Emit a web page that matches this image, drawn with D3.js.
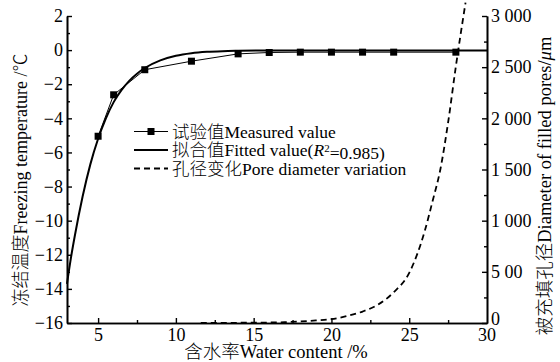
<!DOCTYPE html>
<html>
<head>
<meta charset="utf-8">
<script src="https://cdn.jsdelivr.net/npm/d3@7"></script>
<style>
  body { margin: 0; background: #fff; }
  text { font-family: "Liberation Serif", "Noto Sans CJK SC", serif; fill: #000; }
  .cjk { font-family: "Noto Sans CJK SC", sans-serif; font-weight: 300; }
</style>
</head>
<body>
<div id="chart"></div>
<script>
// measured freezing temperature
var measuredX = [5, 6, 8, 11, 14, 16, 18, 20, 22, 24, 28];
var measuredY = [-5.05, -2.62, -1.15, -0.65, -0.22, -0.14, -0.12, -0.12, -0.12, -0.12, -0.12];

// fitted curve
var fittedX = [3, 3.25, 3.5, 3.75, 4, 4.5, 5, 5.5, 6, 6.5, 7, 7.5, 8, 9, 10, 11, 12, 13, 14, 16, 20, 30];
var fittedY = [-13.7, -12.2, -10.9, -9.7, -8.6, -6.7, -5.2, -4.0, -3.05, -2.35, -1.8, -1.38, -1.05, -0.6, -0.33, -0.18, -0.1, -0.06, -0.04, -0.02, -0.02, -0.02];

// pore diameter (right axis, um)
var poreX = [11.6, 14, 16, 17, 18, 19, 20, 21, 22, 23, 24, 25, 26, 26.5, 27, 27.5, 28, 28.62];
var poreY = [0, 2, 5, 8, 15, 25, 38, 68, 112, 180, 300, 490, 900, 1190, 1500, 1960, 2510, 3130];

var xTicks = [5, 10, 15, 20, 25, 30];
var yLeftTicks = [2, 0, -2, -4, -6, -8, -10, -12, -14, -16];
var yRightTicks = [0, 500, 1000, 1500, 2000, 2500, 3000];
var yRightLabels = ["0", "5 00", "1 000", "1 500", "2 000", "2 500", "3 000"];

var legendCn = ["试验值", "拟合值", "孔径变化"];
var legendEn = ["Measured value", "Fitted value", "Pore diameter variation"];

var W = 560, H = 362;
var svg = d3.select("#chart").append("svg")
  .attr("width", W).attr("height", H);
svg.append("rect").attr("width", W).attr("height", H).attr("fill", "#fff");

var x = d3.scaleLinear().domain([3, 30]).range([67, 487]);
var yL = d3.scaleLinear().domain([-16, 2]).range([323, 16]);
var yR = d3.scaleLinear().domain([0, 3000]).range([323, 16]);

var fs = 18;

function styleAxis(g) {
  g.selectAll("path.domain").attr("stroke-width", 1.6);
  g.selectAll(".tick line").attr("stroke-width", 1.4);
  g.selectAll("text").style("font-size", fs + "px");
}

// bottom axis
var gx = svg.append("g").attr("transform", "translate(0," + yL(-16) + ")");
gx.call(d3.axisBottom(x).tickValues(xTicks.filter(function(d) { return d < 30; })).tickSizeInner(-5).tickSizeOuter(0).tickPadding(5));
gx.append("g").call(d3.axisBottom(x).tickValues([7.5, 12.5, 17.5, 22.5, 27.5]).tickSizeInner(-3).tickSizeOuter(0).tickFormat(""));
styleAxis(gx);
// "30" label under the right axis
svg.append("text").attr("x", x(30)).attr("y", yL(-16) + 5).attr("dy", "0.71em").attr("text-anchor", "middle")
  .style("font-size", fs + "px").text(xTicks[5]);

// left axis
var gl = svg.append("g").attr("transform", "translate(" + x(3) + ",0)");
gl.call(d3.axisLeft(yL).tickValues(yLeftTicks).tickSizeInner(-5).tickSizeOuter(0).tickPadding(4));
gl.append("g").call(d3.axisLeft(yL).tickValues(d3.range(-15, 2, 2)).tickSizeInner(-3).tickSizeOuter(0).tickFormat(""));
styleAxis(gl);

// right axis
var gr = svg.append("g").attr("transform", "translate(" + x(30) + ",0)");
gr.call(d3.axisRight(yR).tickValues(yRightTicks).tickSizeInner(-5).tickSizeOuter(0).tickPadding(4)
  .tickFormat(function(d, i) { return yRightLabels[i]; }));
gr.append("g").call(d3.axisRight(yR).tickValues(d3.range(250, 3000, 500)).tickSizeInner(-3).tickSizeOuter(0).tickFormat(""));
styleAxis(gr);
gr.selectAll(".tick text").filter(function(d) { return d === 0; }).attr("dy", "0.1em");

// axis titles
var xt = svg.append("text").attr("x", 276).attr("y", 358).attr("text-anchor", "middle").style("font-size", "18.5px");
xt.append("tspan").attr("class", "cjk").text("含水率");
xt.append("tspan").text("Water content /%");

var lt = svg.append("text").attr("transform", "translate(27,180) rotate(-90)").attr("text-anchor", "middle").style("font-size", "18px");
lt.append("tspan").attr("class", "cjk").text("冻结温度");
lt.append("tspan").text("Freezing temperature /");
lt.append("tspan").attr("class", "cjk").text("℃");

var rt = svg.append("text").attr("transform", "translate(551,186) rotate(-90)").attr("text-anchor", "middle").style("font-size", "18.5px");
rt.append("tspan").attr("class", "cjk").text("被充填孔径");
rt.append("tspan").text("Diameter of filled pores/");
rt.append("tspan").style("font-style", "italic").text("μ");
rt.append("tspan").text("m");

// series
var measured = measuredX.map(function(d, i) { return [d, measuredY[i]]; });
var fitted = fittedX.map(function(d, i) { return [d, fittedY[i]]; });
var pore = poreX.map(function(d, i) { return [d, poreY[i]]; });

var lineL = d3.line().x(function(d) { return x(d[0]); }).y(function(d) { return yL(d[1]); });
var lineFit = d3.line().curve(d3.curveMonotoneX).x(function(d) { return x(d[0]); }).y(function(d) { return yL(d[1]); });
var lineR = d3.line().curve(d3.curveMonotoneX).x(function(d) { return x(d[0]); }).y(function(d) { return yR(d[1]); });

svg.append("path").datum(pore).attr("d", lineR)
  .attr("fill", "none").attr("stroke", "#000").attr("stroke-width", 1.8).attr("stroke-dasharray", "6,4");
svg.append("path").datum(measured).attr("d", lineL)
  .attr("fill", "none").attr("stroke", "#000").attr("stroke-width", 1);
svg.append("path").datum(fitted).attr("d", lineFit)
  .attr("fill", "none").attr("stroke", "#000").attr("stroke-width", 2);
svg.selectAll(".pt").data(measured).enter().append("rect")
  .attr("x", function(d) { return x(d[0]) - 3.5; })
  .attr("y", function(d) { return yL(d[1]) - 3.5; })
  .attr("width", 7).attr("height", 7).attr("fill", "#000");

// legend
var lg = svg.append("g");
var rowY = [131.5, 150, 168.5];
var lx0 = 134, lx1 = 168;
lg.append("line").attr("x1", lx0).attr("x2", lx1).attr("y1", rowY[0]).attr("y2", rowY[0]).attr("stroke", "#000").attr("stroke-width", 1);
lg.append("rect").attr("x", (lx0 + lx1) / 2 - 3.5).attr("y", rowY[0] - 3.5).attr("width", 7).attr("height", 7).attr("fill", "#000");
lg.append("line").attr("x1", lx0).attr("x2", lx1).attr("y1", rowY[1]).attr("y2", rowY[1]).attr("stroke", "#000").attr("stroke-width", 2);
lg.append("line").attr("x1", lx0).attr("x2", lx1).attr("y1", rowY[2]).attr("y2", rowY[2]).attr("stroke", "#000").attr("stroke-width", 1.8).attr("stroke-dasharray", "6,4");

legendCn.forEach(function(cn, i) {
  var t = lg.append("text").attr("x", 172).attr("y", rowY[i]).attr("dy", "0.35em").style("font-size", "17.5px");
  t.append("tspan").attr("class", "cjk").text(cn);
  t.append("tspan").text(legendEn[i]);
  if (i === 1) {
    t.append("tspan").text("(");
    t.append("tspan").style("font-style", "italic").text("R");
    t.append("tspan").attr("dy", "-0.4em").style("font-size", "11px").text("2");
    t.append("tspan").attr("dy", "0.4em").text("=0.985)");
  }
});
</script>
</body>
</html>
